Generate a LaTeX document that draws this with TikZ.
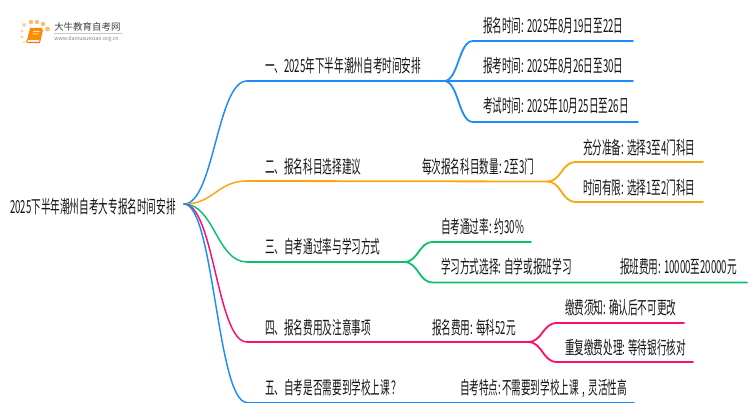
\documentclass[tikz,border=0pt]{standalone}
\usepackage{fontspec}
\newfontfamily\cjk[FakeStretch=0.535]{Noto Sans CJK SC}
\newfontfamily\cjklogo{Noto Sans CJK SC}
\definecolor{cblue}{HTML}{1E8CFA}
\definecolor{corange}{HTML}{F8A80C}
\definecolor{cgreen}{HTML}{0CC06C}
\definecolor{cpink}{HTML}{FA0F6E}
\tikzset{
  lab/.style={anchor=base west,inner sep=0pt,outer sep=0pt,font=\cjk\fontsize{13.5pt}{15pt}\selectfont,text=black!92},
  conn/.style={line width=1.35pt,line cap=round},
  root/.style={line width=1.1pt,line cap=round},
  curveto/.style={to path={.. controls ([xshift=#1]\tikztostart) and ([xshift=-#1]\tikztotarget) .. (\tikztotarget)}},
  curveto/.default=22.5pt
}
\begin{document}
\begin{tikzpicture}[x=0.75pt,y=-0.75pt]
\useasboundingbox (0,0) rectangle (750,410);
% logo
\fill[orange!35] (24,25) circle (2) (22,31) circle (1.6) (22,37) circle (1.5) (24,42) circle (1.2);
\fill[orange!55] (31,22) circle (2.2) (37,22) circle (2.2) (43,24) circle (2.2) (47.5,29) circle (2.4);
\fill[orange!90!yellow] (30,28) -- (42.5,28) -- (39.5,40) -- (27,40) -- cycle;
\draw[orange!80!brown,line width=0.8pt] (27,40) .. controls (26,42) and (27,42.5) .. (29,42.5) -- (39.5,42.5) -- (42.5,30);
\fill[orange!25] (33,31) rectangle (39.5,32) (32.5,33.5) rectangle (38.5,34.3);
\node[anchor=base west,inner sep=0pt,text=black!75,font=\cjklogo\fontsize{7.1pt}{8pt}\selectfont] (logot) at (54,30.5) {大牛教育自考网};
\draw[black!22,line width=0.4pt] (54,33.5) -- (122,33.5);
\node[anchor=base west,inner sep=0pt,text=black!50,font=\cjklogo\fontsize{4pt}{5pt}\selectfont] (logou) at (54,41) {www.daniuxuexiao.org.cn};
% texts
\node[lab] (r) at (10,213) {2025下半年潮州自考大专报名时间安排};
\node[lab] (a) at (265,73) {一、2025年下半年潮州自考时间安排};
\node[lab] (a1) at (483,32.5) {报名时间: 2025年8月19日至22日};
\node[lab] (a2) at (483,72.5) {报考时间: 2025年8月26日至30日};
\node[lab] (a3) at (483,112.5) {考试时间: 2025年10月25日至26日};
\node[lab] (b) at (265,173) {二、报名科目选择建议};
\node[lab] (b0) at (422,173) {每次报名科目数量: 2至3门};
\node[lab] (b1) at (583,154) {充分准备: 选择3至4门科目};
\node[lab] (b2) at (583,194) {时间有限: 选择1至2门科目};
\node[lab] (c) at (265,253) {三、自考通过率与学习方式};
\node[lab] (c1) at (441,233) {自考通过率: 约30\%};
\node[lab] (c2) at (441,273) {学习方式选择: 自学或报班学习};
\node[lab] (c3) at (620,273) {报班费用: 10000至20000元};
\node[lab] (d) at (265,334) {四、报名费用及注意事项};
\node[lab] (d0) at (432,334) {报名费用: 每科52元};
\node[lab] (d1) at (565,314) {缴费须知: 确认后不可更改};
\node[lab] (d2) at (565,354) {重复缴费处理: 等待银行核对};
\node[lab] (e) at (265,394) {五、自考是否需要到学校上课\kern1pt？};
\node[lab] (e0) at (460,394) {自考特点:\kern-1.5pt{} 不需要到学校上课\kern2.6pt,\kern2.6pt灵活性高};
% coordinates
\coordinate (o) at (184,204);
\coordinate (as) at (247,81);   \coordinate (aj) at (444,81);
\coordinate (a1s) at (473,41);  \coordinate (a1e) at (633,41);
\coordinate (a2e) at (633,81);
\coordinate (a3s) at (473,122); \coordinate (a3e) at (638,122);
\coordinate (bs) at (247,181);  \coordinate (bj) at (547,181.5);
\coordinate (b1s) at (576,162); \coordinate (b1e) at (703,162);
\coordinate (b2s) at (576,202); \coordinate (b2e) at (703,202);
\coordinate (cs) at (247,262);  \coordinate (cj) at (404,262);
\coordinate (c1s) at (433,242); \coordinate (c1e) at (531,242);
\coordinate (c2s) at (433,282.5); \coordinate (c2e) at (747,282.5);
\coordinate (ds) at (247,342);  \coordinate (dj) at (528,342);
\coordinate (d1s) at (557,323); \coordinate (d1e) at (684,323);
\coordinate (d2s) at (557,362); \coordinate (d2e) at (693,362);
\coordinate (es) at (247,402.5); \coordinate (ee) at (634,402.5);
% connectors
\draw[root,cblue] (o) to[curveto] (as);
\draw[conn,cblue] (as) -- (aj);
\draw[conn,cblue] (aj) to[curveto=11pt] (a1s) -- (a1e);
\draw[conn,cblue] (aj) -- (a2e);
\draw[conn,cblue] (aj) to[curveto=11pt] (a3s) -- (a3e);
\draw[root,corange] (o) to[curveto] (bs);
\draw[conn,corange] (bs) -- (bj);
\draw[conn,corange] (bj) to[curveto=11pt] (b1s) -- (b1e);
\draw[conn,corange] (bj) to[curveto=11pt] (b2s) -- (b2e);
\draw[root,cgreen] (o) to[curveto] (cs);
\draw[conn,cgreen] (cs) -- (cj);
\draw[conn,cgreen] (cj) to[curveto=11pt] (c1s) -- (c1e);
\draw[conn,cgreen] (cj) to[curveto=11pt] (c2s) -- (c2e);
\draw[root,cpink] (o) to[curveto] (ds);
\draw[conn,cpink] (ds) -- (dj);
\draw[conn,cpink] (dj) to[curveto=11pt] (d1s) -- (d1e);
\draw[conn,cpink] (dj) to[curveto=11pt] (d2s) -- (d2e);
\draw[root,cblue] (o) to[curveto] (es);
\draw[conn,cblue] (es) -- (ee);
\end{tikzpicture}
\end{document}
